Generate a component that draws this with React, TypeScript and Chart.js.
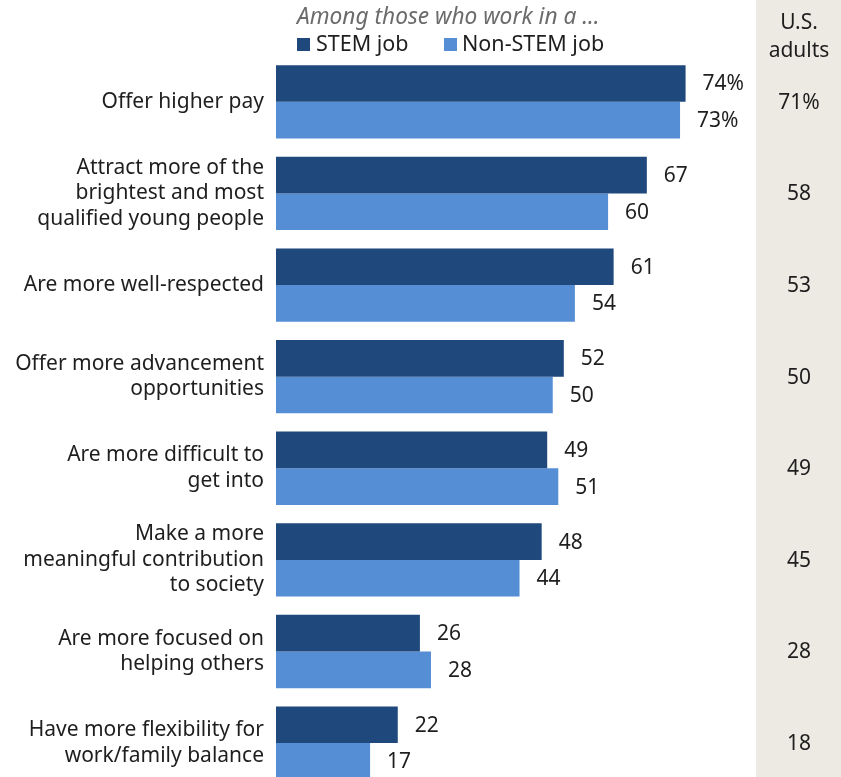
import React, { useEffect, useRef } from 'react';
import { Chart, registerables } from 'chart.js';

Chart.register(...registerables);

const categories: string[][] = [
  ['Offer higher pay'],
  ['Attract more of the', 'brightest and most', 'qualified young people'],
  ['Are more well-respected'],
  ['Offer more advancement', 'opportunities'],
  ['Are more difficult to', 'get into'],
  ['Make a more', 'meaningful contribution', 'to society'],
  ['Are more focused on', 'helping others'],
  ['Have more flexibility for', 'work/family balance'],
];
const stemValues = [74, 67, 61, 52, 49, 48, 26, 22];
const nonStemValues = [73, 60, 54, 50, 51, 44, 28, 17];
const usAdultValues = [71, 58, 53, 50, 49, 45, 28, 18];

const seriesNames = ['STEM job', 'Non-STEM job'];
const headerText = 'Among those who work in a ...';
const columnHeader = ['U.S.', 'adults'];

const FONT = '"Noto Sans", "Liberation Sans", Arial, sans-serif';
const DARK = '#1f497d';
const LIGHT = '#558ed5';
const BEIGE = '#edeae3';
const TEXT = '#1e1e1e';

const Y_MIN = -0.5;
const Y_MAX = 7.37;

const fmt = (v: number, i: number) => (i === 0 ? `${v}%` : `${v}`);

const overlayPlugin = {
  id: 'overlay',
  beforeDraw(chart: any) {
    const { ctx, width, height } = chart;
    ctx.save();
    ctx.fillStyle = BEIGE;
    ctx.fillRect(756, 0, width - 756, height);
    ctx.restore();
  },
  afterDatasetsDraw(chart: any) {
    const { ctx } = chart;
    const yScale = chart.scales.y;
    ctx.save();
    ctx.font = `21px ${FONT}`;
    ctx.fillStyle = TEXT;
    ctx.textBaseline = 'middle';
    ctx.textAlign = 'left';
    chart.data.datasets.forEach((ds: any, di: number) => {
      const meta = chart.getDatasetMeta(di);
      meta.data.forEach((el: any, i: number) => {
        const v = ds.data[i].x;
        ctx.fillText(fmt(v, i), el.x + 17, el.y + 1);
      });
    });
    // U.S. adults column
    ctx.textAlign = 'center';
    usAdultValues.forEach((v, i) => {
      ctx.fillText(fmt(v, i), 799, yScale.getPixelForValue(i) + 1);
    });
    ctx.fillText(columnHeader[0], 799, 23);
    ctx.fillText(columnHeader[1], 799, 51);
    // header + legend
    ctx.textAlign = 'left';
    ctx.font = `italic 22.7px ${FONT}`;
    ctx.fillStyle = '#6b6b6b';
    ctx.fillText(headerText, 297, 18);
    ctx.font = `21.5px ${FONT}`;
    ctx.fillStyle = DARK;
    ctx.fillRect(297, 38, 13, 13);
    ctx.fillStyle = TEXT;
    ctx.fillText(seriesNames[0], 316, 45);
    ctx.fillStyle = LIGHT;
    ctx.fillRect(444, 38, 13, 13);
    ctx.fillStyle = TEXT;
    ctx.fillText(seriesNames[1], 462, 45);
    ctx.restore();
  },
};

export default function App() {
  const ref = useRef<HTMLCanvasElement | null>(null);
  useEffect(() => {
    document.body.style.margin = '0';
    if (!ref.current) return;
    const chart = new Chart(ref.current, {
      type: 'bar',
      data: {
        datasets: [
          {
            label: seriesNames[0],
            data: stemValues.map((v, i) => ({ x: v, y: i })),
            backgroundColor: DARK,
            categoryPercentage: 0.8,
            barPercentage: 1,
          },
          {
            label: seriesNames[1],
            data: nonStemValues.map((v, i) => ({ x: v, y: i })),
            backgroundColor: LIGHT,
            categoryPercentage: 0.8,
            barPercentage: 1,
          },
        ],
      } as any,
      options: {
        indexAxis: 'y',
        responsive: false,
        animation: false,
        devicePixelRatio: 1,
        layout: { padding: { top: 56, right: 89, bottom: 0, left: 0 } },
        plugins: { legend: { display: false }, tooltip: { enabled: false }, title: { display: false } },
        scales: {
          x: { type: 'linear', min: 0, max: 86, display: false },
          y: {
            type: 'linear',
            min: Y_MIN,
            max: Y_MAX,
            offset: false,
            bounds: 'data',
            reverse: true,
            grid: { display: false, drawTicks: false, offset: false },
            border: { display: false },
            afterBuildTicks: (s: any) => {
              s.ticks = categories.map((_, i) => ({ value: i }));
              s.min = Y_MIN;
              s.max = Y_MAX;
            },
            afterFit: (s: any) => {
              s.width = 276;
              s.paddingTop = 0;
              s.paddingBottom = 0;
            },
            ticks: {
              autoSkip: false,
              padding: 12,
              color: TEXT,
              font: { family: FONT, size: 21, lineHeight: 1.22 },
              callback: (value: any) => categories[value as number] ?? '',
            },
          },
        },
      } as any,
      plugins: [overlayPlugin],
    });
    return () => chart.destroy();
  }, []);
  return (
    <div style={{ position: 'absolute', left: 0, top: 0, width: 841, height: 777 }}>
      <canvas ref={ref} width={841} height={777} />
    </div>
  );
}
